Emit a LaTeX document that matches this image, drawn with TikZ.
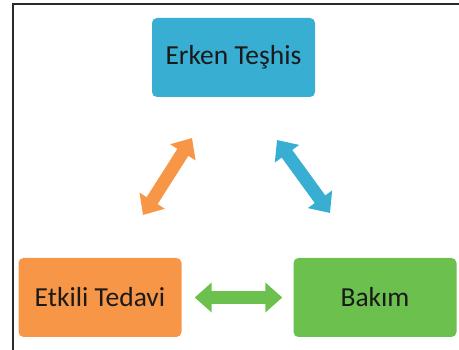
\documentclass[tikz,border=0pt]{standalone}
\usepackage{fontspec}
\setmainfont{Carlito}
\usetikzlibrary{arrows.meta}
\definecolor{cblue}{HTML}{37AED2}
\definecolor{corange}{HTML}{F79646}
\definecolor{cgreen}{HTML}{6CC04E}
\definecolor{ctext}{HTML}{1A1A1A}
\definecolor{cframe}{HTML}{2A2A2A}
\tikzset{
  box/.style={rounded corners=5pt, minimum width=163pt, minimum height=79pt, inner sep=0pt,
    font=\fontsize{27.5}{31}\selectfont, text=ctext},
  fat/.style={line width=13pt, {Triangle[width=29pt,length=17pt]}-{Triangle[width=29pt,length=17pt]}},
}
\begin{document}
\begin{tikzpicture}[x=1pt,y=-1pt]
\useasboundingbox (0,0) rectangle (459,350);
\draw[cframe, line width=2pt] (12.5,350) -- (12.5,4.5) -- (459,4.5);
\node[box, fill=cblue] (et) at (233.5,57.5) {Erken Teşhis};
\node[box, fill=corange] (tv) at (100,297.5) {Etkili Tedavi};
\node[box, fill=cgreen] (bk) at (375,297.5) {Bakım};
\coordinate (o1) at (143,215);
\coordinate (o2) at (192,138);
\coordinate (b1) at (277,140);
\coordinate (b2) at (330,213);
\draw[fat, draw=corange, color=corange] (o1) -- (o2);
\draw[fat, draw=cblue, color=cblue] (b1) -- (b2);
\draw[fat, draw=cgreen, color=cgreen, shorten <=13pt, shorten >=11pt] (tv.east) -- (bk.west);
\end{tikzpicture}
\end{document}
